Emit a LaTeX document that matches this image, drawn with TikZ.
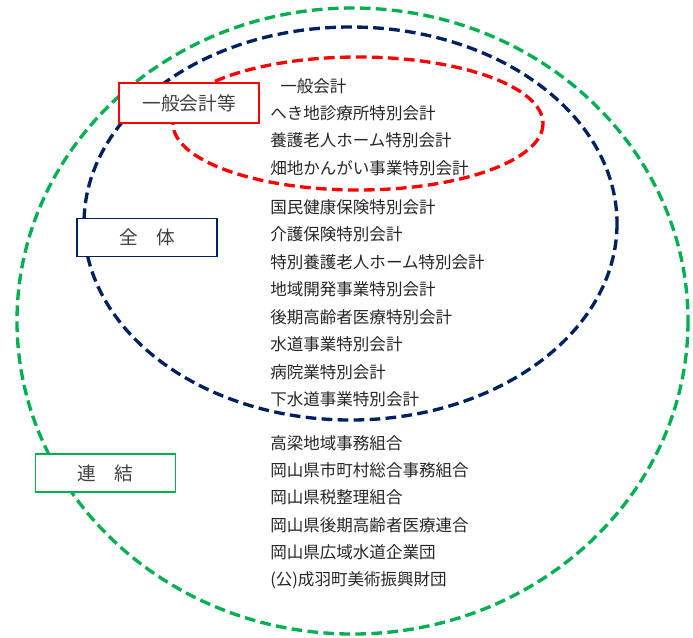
\documentclass[tikz,border=0pt]{standalone}
\usepackage{fontspec}
\setmainfont{Noto Sans CJK JP}
\definecolor{rengreen}{HTML}{00B050}
\definecolor{zennavy}{HTML}{002060}
\definecolor{ippanred}{HTML}{FF0000}
\definecolor{labelgray}{HTML}{404040}
\definecolor{itemblack}{HTML}{262626}
\tikzset{
  ring/.style={line width=2.5pt,dash pattern=on 8pt off 4pt},
  groupbox/.style={draw,line width=1.4pt,fill=white,text=labelgray,
    minimum width=105pt,minimum height=28.5pt,inner sep=0pt,
    font=\fontsize{14pt}{16pt}\selectfont},
  item/.style={anchor=west,inner sep=0pt,text=itemblack,
    font=\fontsize{12.4pt}{14pt}\selectfont}
}
\begin{document}
\begin{tikzpicture}[x=0.75pt,y=-0.75pt]
\useasboundingbox (0,0) rectangle (693,637);
% Drawing rings
\draw[ring,color=rengreen] (352.5,321) ellipse [x radius=335.5,y radius=313];
\draw[ring,color=zennavy] (350.5,223.5) ellipse [x radius=266.5,y radius=196.5];
\draw[ring,color=ippanred] (358,123.5) ellipse [x radius=185,y radius=66.5];
% Done with rings; drawing group boxes
\node[groupbox,draw=ippanred,minimum height=30pt] (ippanbox) at (189,103) {一般会計等};
\node[groupbox,draw=zennavy] (zentaibox) at (147,237.5) {全　体};
\node[groupbox,draw=rengreen] (renketsubox) at (105.5,473) {連　結};
% Done with boxes; drawing account names
% Group 1: ippan
\node[item] (ippan1) at (280,86) {一般会計};
\node[item] (ippan2) at (270,113) {へき地診療所特別会計};
\node[item] (ippan3) at (270,140) {養護老人ホーム特別会計};
\node[item] (ippan4) at (270,168) {畑地かんがい事業特別会計};
% Group 2: zentai
\node[item] (zentai1) at (270,207) {国民健康保険特別会計};
\node[item] (zentai2) at (270,234.5) {介護保険特別会計};
\node[item] (zentai3) at (270,262) {特別養護老人ホーム特別会計};
\node[item] (zentai4) at (270,289.5) {地域開発事業特別会計};
\node[item] (zentai5) at (270,317) {後期高齢者医療特別会計};
\node[item] (zentai6) at (270,344.5) {水道事業特別会計};
\node[item] (zentai7) at (270,372) {病院業特別会計};
\node[item] (zentai8) at (270,399.5) {下水道事業特別会計};
% Group 3: renketsu
\node[item] (renketsu1) at (270,443) {高梁地域事務組合};
\node[item] (renketsu2) at (270,470) {岡山県市町村総合事務組合};
\node[item] (renketsu3) at (270,497.5) {岡山県税整理組合};
\node[item] (renketsu4) at (270,525) {岡山県後期高齢者医療連合};
\node[item] (renketsu5) at (270,552.5) {岡山県広域水道企業団};
\node[item] (renketsu6) at (270,580) {(公)成羽町美術振興財団};
% Done with account names
\end{tikzpicture}
\end{document}
